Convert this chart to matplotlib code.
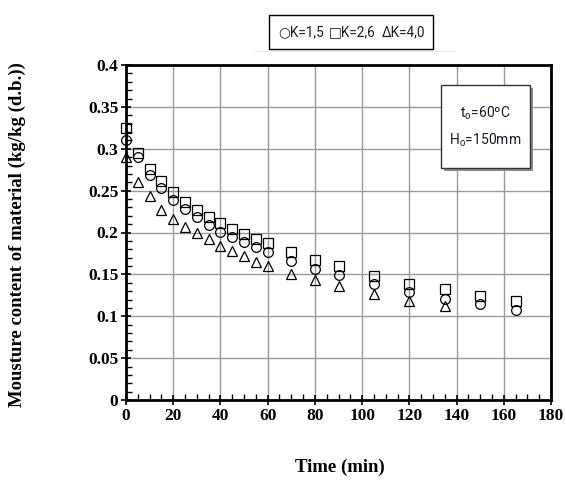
import matplotlib
matplotlib.use("Agg")
import matplotlib.pyplot as plt
from matplotlib.ticker import MultipleLocator
from matplotlib.patches import Rectangle

time_k15 = [0, 5, 10, 15, 20, 25, 30, 35, 40, 45, 50, 55, 60, 70, 80, 90, 105, 120, 135, 150, 165]
k15 = [0.311, 0.290, 0.269, 0.253, 0.239, 0.228, 0.219, 0.209, 0.201, 0.195, 0.189, 0.183, 0.177,
       0.166, 0.156, 0.149, 0.138, 0.129, 0.121, 0.115, 0.108]
time_k26 = [0, 5, 10, 15, 20, 25, 30, 35, 40, 45, 50, 55, 60, 70, 80, 90, 105, 120, 135, 150, 165]
k26 = [0.325, 0.295, 0.276, 0.262, 0.248, 0.237, 0.227, 0.218, 0.211, 0.204, 0.198, 0.192, 0.187,
       0.177, 0.167, 0.160, 0.148, 0.139, 0.132, 0.124, 0.118]
time_k40 = [0, 5, 10, 15, 20, 25, 30, 35, 40, 45, 50, 55, 60, 70, 80, 90, 105, 120, 135]
k40 = [0.290, 0.260, 0.244, 0.227, 0.216, 0.207, 0.199, 0.192, 0.184, 0.178, 0.172, 0.165, 0.160,
       0.151, 0.143, 0.136, 0.126, 0.118, 0.112]

legend_items = ["○K=1,5", "□K=2,6", "ΔK=4,0"]
info_lines = ["t$_\\mathregular{o}$=60ºC", "H$_\\mathregular{o}$=150mm"]
xticks = [0, 20, 40, 60, 80, 100, 120, 140, 160, 180]
xticklabels = ["0", "20", "40", "60", "80", "100", "120", "140", "160", "180"]
yticks = [0, 0.05, 0.1, 0.15, 0.2, 0.25, 0.3, 0.35, 0.4]
yticklabels = ["0", "0.05", "0.1", "0.15", "0.2", "0.25", "0.3", "0.35", "0.4"]
xlabel = "Time (min)"
ylabel = "Mousture content of material (kg/kg (d.b.))"

serif = ["Liberation Serif", "DejaVu Serif"]
sans = ["Roboto", "DejaVu Sans"]

W, H = 566, 480
fig = plt.figure(figsize=(W / 100, H / 100), dpi=100)
ax = fig.add_axes([126 / W, 1 - 400 / H, 425 / W, 335 / H])

mk = dict(linestyle="none", markerfacecolor="none", markeredgecolor="black",
          markeredgewidth=0.9, zorder=3, clip_on=False)
ax.plot(time_k40, k40, marker="^", markersize=7.5, **mk)
ax.plot(time_k15, k15, marker="o", markersize=7, **mk)
ax.plot(time_k26, k26, marker="s", markersize=6.5, **mk)

ax.set_xlim(0, 180)
ax.set_ylim(0, 0.4)
ax.set_xticks(xticks)
ax.set_xticklabels(xticklabels, family=serif, fontweight="bold", fontsize=12.5)
ax.set_yticks(yticks)
ax.set_yticklabels(yticklabels, family=serif, fontweight="bold", fontsize=12.5)
ax.xaxis.set_minor_locator(MultipleLocator(5))
ax.yaxis.set_minor_locator(MultipleLocator(0.01))
ax.grid(True, which="major", color="#9a9a9a", linewidth=1.0, zorder=0)
ax.tick_params(which="major", direction="inout", length=7, width=1.2, pad=2)
ax.tick_params(which="minor", direction="in", length=4, width=1.0)
for s in ax.spines.values():
    s.set_linewidth(2.0)
    s.set_color("black")
    s.set_zorder(4)

fig.text(17 / W, 1 - 235 / H, ylabel, rotation=90, ha="center", va="center",
         family=serif, fontweight="bold", fontsize=13.5)
fig.text(340 / W, 1 - 467 / H, xlabel, ha="center", va="center",
         family=serif, fontweight="bold", fontsize=13.5)

# legend-like text box at the top
fig.patches.append(Rectangle((255 / W, 1 - 52 / H), 200 / W, 1 / H, transform=fig.transFigure,
                             facecolor="#e6e6e6", edgecolor="none"))
fig.patches.append(Rectangle((269 / W, 1 - 49 / H), 164 / W, 34 / H, transform=fig.transFigure,
                             facecolor="white", edgecolor="black", linewidth=1.0))
for xc, item in zip([301, 352, 404], legend_items):
    fig.text(xc / W, 1 - 32 / H, item, ha="center", va="center", family=sans,
             fontsize=9.8, color="#1a1a2e")

# info box with drop shadow
fig.patches.append(Rectangle((444 / W, 1 - 171 / H), 89 / W, 83 / H, transform=fig.transFigure,
                             facecolor="#8c8c8c", edgecolor="none", zorder=5))
fig.patches.append(Rectangle((441 / W, 1 - 168 / H), 89 / W, 83 / H, transform=fig.transFigure,
                             facecolor="white", edgecolor="#333333", linewidth=1.0, zorder=6))
fig.text(485.5 / W, 1 - 113 / H, info_lines[0], ha="center", va="center", family=sans,
         fontsize=10, color="#1a1a2e", zorder=7)
fig.text(485.5 / W, 1 - 140 / H, info_lines[1], ha="center", va="center", family=sans,
         fontsize=10, color="#1a1a2e", zorder=7)

fig.savefig("out.png", dpi=100)
